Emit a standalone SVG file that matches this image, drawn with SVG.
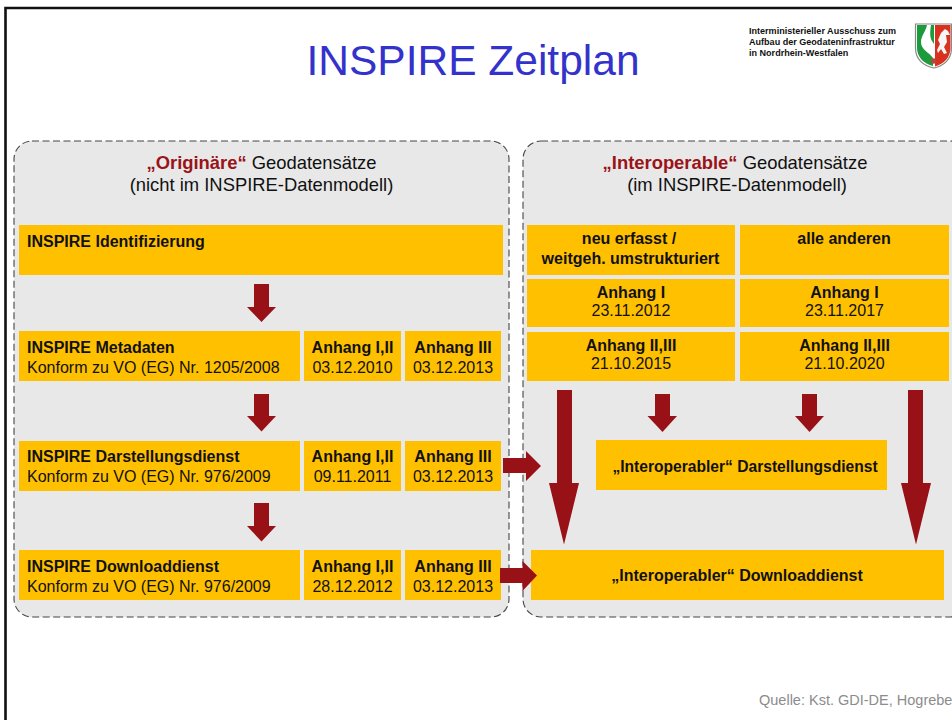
<svg xmlns="http://www.w3.org/2000/svg" width="952" height="720" viewBox="0 0 952 720">
<style>
text{font-family:"Liberation Sans",Arial,sans-serif;font-size:16px;fill:#111}
.c{text-anchor:middle}
.b{font-weight:bold}
.y{fill:#ffc000}
.p{fill:#e8e8e8;stroke:#444;stroke-width:1.1;stroke-dasharray:7 3.5}
.h{font-size:18.4px}
.r{fill:#9a1318}
.a{fill:#971116}
</style>
<rect width="952" height="720" fill="#fff"/>
<path d="M5.500 720V8H952" fill="none" stroke="#111" stroke-width="2.6"/>
<text id="title" x="473" y="75" class="c" style="font-size:42.500px;fill:#3333cc">INSPIRE Zeitplan</text>
<g id="header-org">
<text x="749" y="34" class="b" style="font-size:9.050px">Interministerieller Ausschuss zum</text>
<text x="749" y="44.500" class="b" style="font-size:9.050px">Aufbau der Geodateninfrastruktur</text>
<text x="749" y="56" class="b" style="font-size:9.050px">in Nordrhein-Westfalen</text>
</g>
<g id="crest">
<path d="M915.500 24H951.500V48C951.500 59 944 66 934 68C923 66 915.500 59 915.500 48Z" fill="#fff" stroke="#888" stroke-width="1.200"/>
<path d="M917 25H927C926 31 921 36 921 42C921 50 929 52 933 58V66C924 64 917 57 917 48Z" fill="#1d9a3c"/>
<path d="M931 25H934V44C931 40 929 37 931 25Z" fill="#1d9a3c"/>
<path d="M935 25H950.500V48C950.500 57 944 64 935 66.500Z" fill="#d8321e"/>
<path d="M938 40L941 33L945 29L948 31L950 35L946 35L947 42L944 47L947 53L944 54L941 49L938 53L937 50L940 44Z" fill="#f5f5f5"/>
<circle cx="933.500" cy="61" r="2.800" fill="#b5483c"/>
</g>

<g id="panel-originaer">
<rect class="p" x="14" y="141" width="495" height="476" rx="18"/>
<text x="261.500" y="168.500" class="c h"><tspan class="b r">„Originäre“</tspan> Geodatensätze</text>
<text x="261.500" y="190.500" class="c h">(nicht im INSPIRE-Datenmodell)</text>
</g>
<g id="panel-interoperabel">
<rect class="p" x="523" y="141" width="445" height="476" rx="18"/>
<text x="735" y="168.500" class="c h"><tspan class="b r">„Interoperable“</tspan> Geodatensätze</text>
<text x="737" y="190.500" class="c h">(im INSPIRE-Datenmodell)</text>
</g>

<g id="n-identifizierung">
<rect class="y" x="19" y="225" width="484" height="50"/>
<text x="27" y="246.500" class="b">INSPIRE Identifizierung</text>
</g>
<g id="n-metadaten">
<rect class="y" x="19" y="331" width="281" height="50"/>
<text x="27" y="353" class="b">INSPIRE Metadaten</text>
<text x="27" y="372.500">Konform zu VO (EG) Nr. 1205/2008</text>
</g>
<g id="n-metadaten-a12">
<rect class="y" x="304" y="331" width="97" height="50"/>
<text x="352.500" y="353" class="c b">Anhang I,II</text>
<text x="352.500" y="372.500" class="c">03.12.2010</text>
</g>
<g id="n-metadaten-a3">
<rect class="y" x="405" y="331" width="96" height="50"/>
<text x="453" y="353" class="c b">Anhang III</text>
<text x="453" y="372.500" class="c">03.12.2013</text>
</g>
<g id="n-darstellung">
<rect class="y" x="19" y="441" width="281" height="50"/>
<text x="27" y="462" class="b">INSPIRE Darstellungsdienst</text>
<text x="27" y="482">Konform zu VO (EG) Nr. 976/2009</text>
</g>
<g id="n-darstellung-a12">
<rect class="y" x="304" y="441" width="97" height="50"/>
<text x="352.500" y="462" class="c b">Anhang I,II</text>
<text x="352.500" y="482" class="c">09.11.2011</text>
</g>
<g id="n-darstellung-a3">
<rect class="y" x="405" y="441" width="96" height="50"/>
<text x="453" y="462" class="c b">Anhang III</text>
<text x="453" y="482" class="c">03.12.2013</text>
</g>
<g id="n-download">
<rect class="y" x="19" y="550" width="281" height="50"/>
<text x="27" y="572" class="b">INSPIRE Downloaddienst</text>
<text x="27" y="591.500">Konform zu VO (EG) Nr. 976/2009</text>
</g>
<g id="n-download-a12">
<rect class="y" x="304" y="550" width="97" height="50"/>
<text x="352.500" y="572" class="c b">Anhang I,II</text>
<text x="352.500" y="591.500" class="c">28.12.2012</text>
</g>
<g id="n-download-a3">
<rect class="y" x="405" y="550" width="96" height="50"/>
<text x="453" y="572" class="c b">Anhang III</text>
<text x="453" y="591.500" class="c">03.12.2013</text>
</g>

<g id="n-neu">
<rect class="y" x="527" y="225" width="208" height="50"/>
<text x="629" y="244" class="c b">neu erfasst /</text>
<text x="630.500" y="263.500" class="c b">weitgeh. umstrukturiert</text>
</g>
<g id="n-alle">
<rect class="y" x="740" y="225" width="209" height="50"/>
<text x="844" y="244" class="c b">alle anderen</text>
</g>
<g id="n-neu-a1">
<rect class="y" x="527" y="279" width="208" height="48"/>
<text x="631" y="297.500" class="c b">Anhang I</text>
<text x="631" y="316" class="c">23.11.2012</text>
</g>
<g id="n-alle-a1">
<rect class="y" x="740" y="279" width="209" height="48"/>
<text x="844.500" y="297.500" class="c b">Anhang I</text>
<text x="844.500" y="316" class="c">23.11.2017</text>
</g>
<g id="n-neu-a23">
<rect class="y" x="527" y="332" width="208" height="49"/>
<text x="631" y="350.500" class="c b">Anhang II,III</text>
<text x="631" y="369" class="c">21.10.2015</text>
</g>
<g id="n-alle-a23">
<rect class="y" x="740" y="332" width="209" height="49"/>
<text x="844.500" y="350.500" class="c b">Anhang II,III</text>
<text x="844.500" y="369" class="c">21.10.2020</text>
</g>
<g id="n-int-darstellung">
<rect class="y" x="596" y="440" width="291" height="50"/>
<text x="745" y="472" class="c b" style="font-size:15.600px">„Interoperabler“ Darstellungsdienst</text>
</g>
<g id="n-int-download">
<rect class="y" x="531" y="550" width="413" height="50"/>
<text x="737" y="580.500" class="c b">„Interoperabler“ Downloaddienst</text>
</g>

<g id="connectors" class="a">
<path d="M254 284H269V307H276L261.500 322L247 307H254Z"/>
<path d="M254 394H269V416H276L261.500 431.500L247 416H254Z"/>
<path d="M254 503H269V526H276L261.500 541.500L247 526H254Z"/>
<path d="M655 394H670V416H677L662.500 432L647.500 416H655Z"/>
<path d="M802 394H817V416H824L809.500 432L795 416H802Z"/>
<path d="M557 390H572V483H579L564 544.500L549 483H557Z"/>
<path d="M908 390H923V483H931L916 544.500L901 483H908Z"/>
<path d="M503 458H526V451L541 466L526 481V473H503Z"/>
<path d="M500 568H522.500V561L537 575.500L522.500 591V583H500Z"/>
</g>
<text id="source" x="759" y="704.500" style="font-size:14.500px;fill:#8c8c8c">Quelle: Kst. GDI-DE, Hogrebe</text>
</svg>
